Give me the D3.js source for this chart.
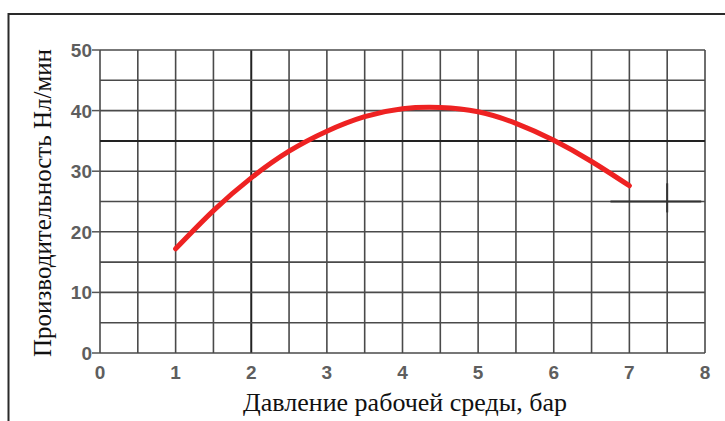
<!DOCTYPE html>
<html><head><meta charset="utf-8">
<script src="https://cdn.jsdelivr.net/npm/d3@7"></script>
<style>body{margin:0;background:#fff}svg{display:block}</style>
</head><body>
<svg id="c" width="725" height="421"></svg>
<script>
const pressure = [1, 1.5, 2, 2.5, 3, 3.5, 4, 4.5, 5, 5.5, 6, 6.5, 7];
const flow = [17.2, 23.5, 28.9, 33.3, 36.6, 39.0, 40.3, 40.5, 39.8, 37.9, 35.1, 31.6, 27.6];
const xTicks = [0, 1, 2, 3, 4, 5, 6, 7, 8];
const yTicks = [0, 10, 20, 30, 40, 50];
const xGrid = d3.range(0, 8.01, 0.5);
const yGrid = d3.range(0, 50.01, 5);
const xTitle = "Давление рабочей среды, бар";
const yTitle = "Производительность Нл/мин";

const svg = d3.select("#c");
const x = d3.scaleLinear().domain([0, 8]).range([100, 705]);
const y = d3.scaleLinear().domain([0, 50]).range([353, 50]);

// frame
svg.append("path").attr("d", "M8.5,421 L8.5,14 L725,14")
  .attr("fill", "none").attr("stroke", "#2a2a2a").attr("stroke-width", 2);

const g = svg.append("g");
g.selectAll(".vg").data(xGrid).join("line")
  .attr("x1", d => x(d)).attr("x2", d => x(d))
  .attr("y1", y(0)).attr("y2", y(50))
  .attr("stroke", d => d === 2 ? "#222" : "#4a4a4a")
  .attr("stroke-width", d => d === 2 ? 2 : 1.6);
g.selectAll(".hg").data(yGrid).join("line")
  .attr("y1", d => y(d)).attr("y2", d => y(d))
  .attr("x1", x(0)).attr("x2", x(8))
  .attr("stroke", d => d === 35 ? "#222" : "#4a4a4a")
  .attr("stroke-width", d => d === 35 ? 2 : 1.6);

// small crosshair mark
g.append("line").attr("x1", x(6.75)).attr("x2", x(7.95)).attr("y1", y(25)).attr("y2", y(25))
  .attr("stroke", "#333").attr("stroke-width", 2);
g.append("line").attr("x1", x(7.5)).attr("x2", x(7.5)).attr("y1", y(28)).attr("y2", y(23.2))
  .attr("stroke", "#333").attr("stroke-width", 2);

// y tick marks + labels
g.selectAll(".yt").data(yTicks).join("line")
  .attr("x1", x(0) - 8).attr("x2", x(0)).attr("y1", d => y(d)).attr("y2", d => y(d))
  .attr("stroke", "#555").attr("stroke-width", 1.5);
svg.selectAll(".yl").data(yTicks).join("text")
  .attr("x", x(0) - 8).attr("y", d => y(d) + 7)
  .attr("text-anchor", "end")
  .attr("font-family", "Liberation Sans, Arial, sans-serif").attr("font-weight", "bold")
  .attr("font-size", 19).attr("fill", "#5e5e5e").text(d => d);
svg.selectAll(".xl").data(xTicks).join("text")
  .attr("x", d => x(d)).attr("y", 379)
  .attr("text-anchor", "middle")
  .attr("font-family", "Liberation Sans, Arial, sans-serif").attr("font-weight", "bold")
  .attr("font-size", 19).attr("fill", "#5e5e5e").text(d => d);

// titles
svg.append("text").attr("x", 405).attr("y", 411).attr("text-anchor", "middle")
  .attr("font-family", "Liberation Serif, Times New Roman, serif").attr("font-size", 26)
  .attr("fill", "#111").text(xTitle);
svg.append("text").attr("transform", "translate(51,203) rotate(-90)").attr("text-anchor", "middle")
  .attr("font-family", "Liberation Serif, Times New Roman, serif").attr("font-size", 25)
  .attr("fill", "#111").text(yTitle);

// curve
const line = d3.line().x((d, i) => x(pressure[i])).y(d => y(d)).curve(d3.curveNatural);
svg.append("path").datum(flow).attr("d", line)
  .attr("fill", "none").attr("stroke", "#ee2222").attr("stroke-width", 5)
  .attr("stroke-linecap", "round");
</script>
</body></html>
